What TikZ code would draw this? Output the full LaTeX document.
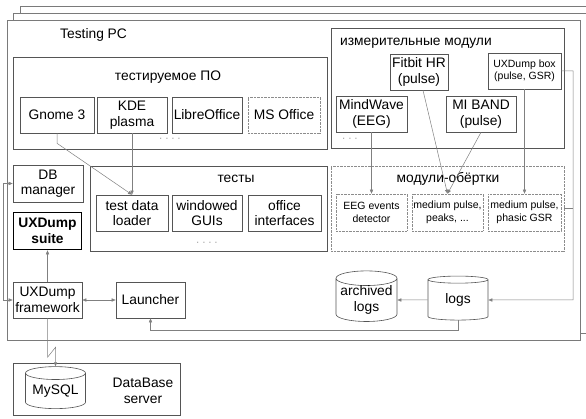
\documentclass[tikz,border=0pt]{standalone}
\usepackage{fontspec}
\setmainfont{Liberation Sans}
\usetikzlibrary{shapes.geometric, arrows.meta}

\definecolor{boxgray}{HTML}{555555}
\definecolor{wiregray}{HTML}{808080}
\definecolor{framegray}{HTML}{7A7A7A}
\definecolor{dotgray}{HTML}{8C8C8C}

\tikzset{
  box/.style={draw=boxgray, fill=white, align=center, inner sep=0pt, line width=0.6pt,
    minimum height=36, font=\fontsize{13.8}{15.5}\selectfont},
  dotbox/.style={box, draw=dotgray, dash pattern=on 0.7pt off 0.7pt},
  smalltext/.style={font=\fontsize{10.5}{12.5}\selectfont},
  group/.style={draw=boxgray, fill=white, line width=0.6pt, inner sep=0pt},
  label/.style={font=\fontsize{13.8}{15.5}\selectfont, inner sep=0pt},
  store/.style={cylinder, shape border rotate=90, aspect=0.28, draw=boxgray, fill=white,
    line width=0.6pt, align=center, inner sep=0pt, font=\fontsize{13.8}{15.5}\selectfont},
  wire/.style={draw=wiregray, line width=0.5pt, -{Triangle[length=4pt,width=3.2pt]}},
  dots/.style={text=dotgray, font=\fontsize{10}{10}\selectfont, inner sep=0pt},
}

\begin{document}
\begin{tikzpicture}[x=1pt, y=-1pt]
  \clip (0,0) rectangle (586,419);

  % stacked frames of the testing PCs
  \draw[draw=framegray, fill=white, line width=0.6pt] (20,6) rectangle (600,326);
  \draw[draw=framegray, fill=white, line width=0.6pt] (13,13) rectangle (593,333);
  \draw[draw=framegray, fill=white, line width=0.6pt] (7,20) rectangle (580,340);
  \node[label, anchor=west] (pctitle) at (60,35) {Testing PC};

  % software under test
  \node[group, minimum width=314, minimum height=92] (tested) at (170,103) {};
  \node[label] (testedtitle) at (168,77) {тестируемое ПО};
  \node[box, minimum width=74] (gnome) at (57,115) {Gnome 3};
  \node[box, minimum width=70] (kde) at (132,115) {KDE\\plasma};
  \node[box, minimum width=70] (libre) at (207,115) {LibreOffice};
  \node[dotbox, minimum width=72] (msoffice) at (284,115) {MS Office};
  \node[dots] (testeddots) at (170,140) {· · · ·};

  % measuring modules
  \node[group, minimum width=233, minimum height=120] (meas) at (447.5,88) {};
  \node[label, anchor=west] (meastitle) at (340,43) {измерительные модули};
  \node[box, minimum width=58] (fitbit) at (419,72) {Fitbit HR\\(pulse)};
  \node[box, smalltext, minimum width=73] (uxbox) at (524.5,71) {UXDump box\\(pulse, GSR)};
  \node[box, minimum width=71] (mindwave) at (371.5,114) {MindWave\\(EEG)};
  \node[box, minimum width=70] (miband) at (481,114) {MI BAND\\(pulse)};
  \node[dots] (measdots) at (350,140) {· · ·};

  % left column
  \node[box, minimum width=70, minimum height=37] (dbman) at (48,183.5) {DB\\manager};
  \node[box, draw=black, line width=1.6pt, minimum width=68, minimum height=37,
    font=\fontsize{13.8}{15.5}\selectfont\bfseries] (suite) at (47.5,231) {UXDump\\suite};
  \node[box, minimum width=69] (fw) at (47.5,300) {UXDump\\framework};
  \node[box, minimum width=69] (launcher) at (150.5,300) {Launcher};

  % tests
  \node[group, minimum width=237, minimum height=85] (tests) at (208.5,208.5) {};
  \node[label] (teststitle) at (236,179) {тесты};
  \node[box, minimum width=72] (loader) at (132,213) {test data\\loader};
  \node[box, minimum width=70] (guis) at (207,213) {windowed\\GUIs};
  \node[box, minimum width=73] (office) at (284.5,213) {office\\interfaces};
  \node[dots] (testsdots) at (207,244) {· · · ·};

  % wrapper modules
  \node[group, draw=dotgray, dash pattern=on 0.7pt off 0.7pt, minimum width=233,
    minimum height=85] (wrap) at (447.5,208.5) {};
  \node[label] (wraptitle) at (448,179) {модули-обёртки};
  \node[dotbox, smalltext, minimum width=71, minimum height=37] (eeg) at (371.5,212.5) {EEG events\\detector};
  \node[dotbox, smalltext, minimum width=71, minimum height=37] (peaks) at (447.5,212.5) {medium pulse,\\peaks, ...};
  \node[dotbox, smalltext, minimum width=73, minimum height=37] (gsr) at (524.5,212.5) {medium pulse,\\phasic GSR};

  % log storage
  \node[store, minimum width=61, minimum height=44] (archived) at (366.5,300) {archived\\logs};
  \node[store, minimum width=60, minimum height=44] (logs) at (458,300) {logs};

  % database server
  \node[group, minimum width=167, minimum height=52] (dbserver) at (96.5,389) {};
  \node[store, minimum width=60, minimum height=42] (mysql) at (55.5,391) {MySQL};
  \node[label, align=center] (dbtitle) at (143,391) {DataBase\\server};

  % connections
  \draw[wire] (gnome.south) -- ++(0,10) -- (loader.north);
  \draw[wire] (kde.south) -- (loader.north);
  \draw[wire] (mindwave.south) -- (eeg.north);
  \draw[wire] ([xshift=4pt]fitbit.south) -- (peaks.north);
  \draw[wire] (miband.south) -- (peaks.north);
  \draw[wire] (uxbox.south) -- (gsr.north);
  \draw[wire] (uxbox.east) -- (573,71) -- (573,300) -- (logs.east);
  \draw[draw=wiregray, line width=0.5pt] (wrap.east) -- (573,208.5);
  \draw[wire] (logs.west) -- (archived.east);
  \draw[wire] (logs.south) -- ++(0,10) -| (launcher.south);
  \draw[wire, {Triangle[length=4pt,width=3.2pt]}-{Triangle[length=4pt,width=3.2pt]}] (fw.east) -- (launcher.west);
  \draw[wire] (fw.north) -- (suite.south);
  \draw[wire, {Triangle[length=4pt,width=3.2pt]}-{Triangle[length=4pt,width=3.2pt]}] (dbman.west) -- (3,183.5) |- (fw.west);
  \draw[wire] (fw.south) -- ++(0,39) -- ++(8,-10) -- (mysql.north);
\end{tikzpicture}
\end{document}
